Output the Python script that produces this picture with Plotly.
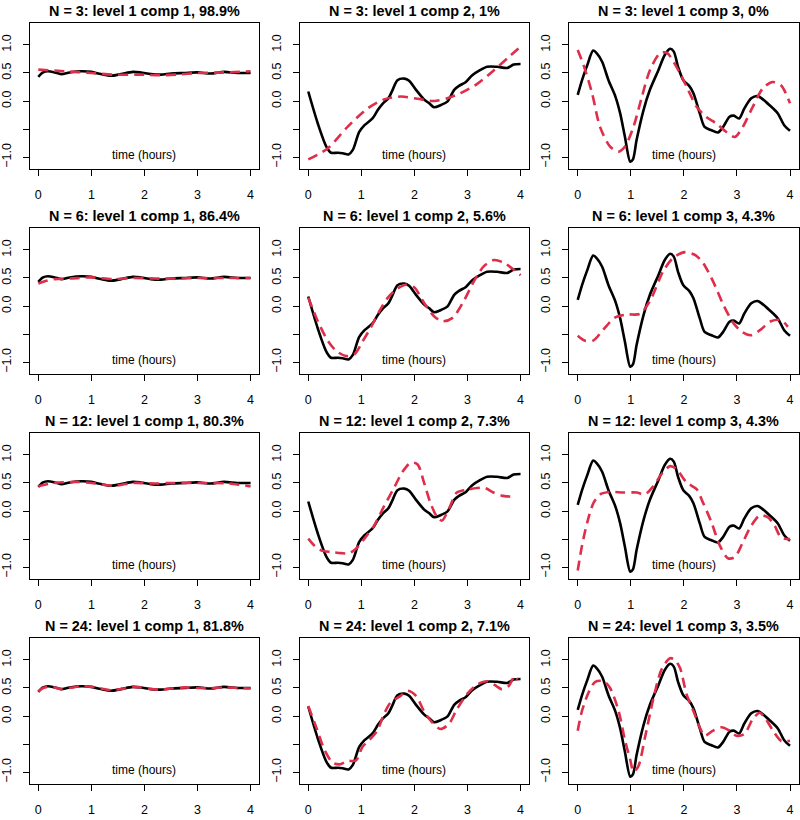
import plotly.graph_objects as go

# ---------------- data ----------------
TITLES = [
    "N = 3: level 1 comp 1, 98.9%", "N = 3: level 1 comp 2, 1%", "N = 3: level 1 comp 3, 0%",
    "N = 6: level 1 comp 1, 86.4%", "N = 6: level 1 comp 2, 5.6%", "N = 6: level 1 comp 3, 4.3%",
    "N = 12: level 1 comp 1, 80.3%", "N = 12: level 1 comp 2, 7.3%", "N = 12: level 1 comp 3, 4.3%",
    "N = 24: level 1 comp 1, 81.8%", "N = 24: level 1 comp 2, 7.1%", "N = 24: level 1 comp 3, 3.5%",
]
X_TICKS = [0, 1, 2, 3, 4]
Y_TICKS = [-1.0, -0.5, 0.0, 0.5, 1.0]
Y_TICKTEXT = ["\u22121.0", "", "0.0", "0.5", "1.0"]
X_LABEL = "time (hours)"

# true components (black, same in every row)
TRUE1_T = [0, 0.09, 0.18, 0.31, 0.43, 0.59, 0.81, 1.0, 1.18, 1.37, 1.56, 1.78, 1.93, 2.12, 2.31, 2.5, 2.75, 3.0, 3.25, 3.5, 3.75, 4.0]
TRUE1_Y = [0.43, 0.51, 0.53, 0.51, 0.48, 0.51, 0.53, 0.52, 0.48, 0.45, 0.48, 0.52, 0.51, 0.48, 0.47, 0.49, 0.50, 0.51, 0.49, 0.52, 0.50, 0.50]

TRUE2_T = [0, 0.18, 0.34, 0.43, 0.56, 0.65, 0.76, 0.84, 0.96, 1.06, 1.21, 1.31, 1.40, 1.51, 1.59, 1.68, 1.81, 1.90, 2.03, 2.18, 2.28, 2.37, 2.50, 2.62, 2.75, 2.84, 2.97, 3.09, 3.22, 3.37, 3.56, 3.75, 3.87, 4.0]
TRUE2_Y = [0.17, -0.40, -0.81, -0.92, -0.92, -0.93, -0.95, -0.87, -0.55, -0.43, -0.31, -0.16, -0.05, 0.05, 0.20, 0.37, 0.40, 0.36, 0.20, 0.03, -0.04, -0.11, -0.07, -0.01, 0.20, 0.27, 0.34, 0.46, 0.54, 0.61, 0.61, 0.59, 0.65, 0.66]

TRUE3_T = [0, 0.08, 0.18, 0.29, 0.36, 0.46, 0.58, 0.71, 0.80, 0.89, 0.99, 1.04, 1.11, 1.24, 1.36, 1.52, 1.64, 1.74, 1.81, 1.89, 1.99, 2.10, 2.18, 2.30, 2.39, 2.52, 2.64, 2.74, 2.86, 2.94, 3.04, 3.14, 3.27, 3.39, 3.49, 3.61, 3.77, 3.89, 4.0]
TRUE3_Y = [0.11, 0.37, 0.64, 0.90, 0.85, 0.70, 0.37, 0.08, -0.22, -0.64, -1.08, -1.04, -0.69, -0.16, 0.20, 0.55, 0.82, 0.93, 0.88, 0.61, 0.37, 0.27, 0.14, -0.22, -0.46, -0.52, -0.56, -0.46, -0.28, -0.26, -0.31, -0.13, 0.05, 0.09, 0.03, -0.07, -0.22, -0.43, -0.53]

# estimated components (red dashed), one per panel
EST_N3_C1_T = [0, 0.5, 1.0, 1.4, 1.9, 2.3, 2.6, 3.0, 3.5, 4.0]
EST_N3_C1_Y = [0.56, 0.53, 0.50, 0.47, 0.47, 0.46, 0.47, 0.50, 0.51, 0.53]
EST_N3_C2_T = [0, 0.37, 0.74, 1.12, 1.43, 1.75, 2.06, 2.37, 2.62, 2.87, 3.19, 3.50, 3.75, 4.0]
EST_N3_C2_Y = [-1.04, -0.84, -0.46, -0.13, 0.03, 0.08, 0.04, 0.0, 0.05, 0.14, 0.31, 0.55, 0.76, 0.97]
EST_N3_C3_T = [0, 0.11, 0.27, 0.42, 0.61, 0.77, 0.89, 1.05, 1.21, 1.36, 1.55, 1.68, 1.86, 2.05, 2.24, 2.42, 2.61, 2.80, 2.96, 3.11, 3.30, 3.49, 3.67, 3.83, 4.0]
EST_N3_C3_Y = [0.91, 0.64, 0.14, -0.46, -0.81, -0.90, -0.81, -0.46, 0.08, 0.55, 0.85, 0.86, 0.61, 0.26, -0.10, -0.28, -0.40, -0.55, -0.64, -0.46, -0.10, 0.23, 0.34, 0.28, -0.04]

EST_N6_C1_T = [0, 0.15, 0.3, 0.6, 1.0, 1.4, 1.8, 2.2, 2.6, 3.0, 3.5, 4.0]
EST_N6_C1_Y = [0.40, 0.45, 0.48, 0.49, 0.51, 0.48, 0.50, 0.49, 0.49, 0.50, 0.50, 0.50]
EST_N6_C2_T = [0, 0.18, 0.37, 0.53, 0.71, 0.87, 1.03, 1.18, 1.34, 1.50, 1.68, 1.84, 2.0, 2.18, 2.37, 2.53, 2.72, 2.93, 3.12, 3.31, 3.50, 3.69, 3.87, 4.0]
EST_N6_C2_Y = [0.15, -0.27, -0.62, -0.80, -0.89, -0.86, -0.62, -0.38, -0.09, 0.15, 0.31, 0.38, 0.33, 0.06, -0.18, -0.27, -0.21, 0.09, 0.44, 0.71, 0.82, 0.77, 0.65, 0.55]
EST_N6_C3_T = [0, 0.14, 0.30, 0.49, 0.71, 0.93, 1.17, 1.36, 1.61, 1.80, 2.02, 2.21, 2.36, 2.55, 2.74, 2.93, 3.11, 3.27, 3.46, 3.64, 3.83, 3.96]
EST_N6_C3_Y = [-0.53, -0.62, -0.61, -0.41, -0.20, -0.15, -0.14, 0.09, 0.62, 0.86, 0.96, 0.91, 0.77, 0.44, 0.03, -0.30, -0.47, -0.52, -0.41, -0.27, -0.25, -0.37]

EST_N12_C1_T = [0, 0.3, 0.7, 1.0, 1.4, 1.8, 2.2, 2.5, 3.0, 3.6, 4.0]
EST_N12_C1_Y = [0.44, 0.50, 0.52, 0.50, 0.45, 0.50, 0.49, 0.50, 0.50, 0.49, 0.44]
EST_N12_C2_T = [0, 0.12, 0.24, 0.43, 0.62, 0.77, 0.90, 1.05, 1.24, 1.43, 1.62, 1.77, 1.93, 2.06, 2.18, 2.30, 2.43, 2.52, 2.65, 2.80, 2.99, 3.18, 3.33, 3.49, 3.67, 3.83, 3.87]
EST_N12_C2_Y = [-0.49, -0.62, -0.70, -0.73, -0.75, -0.75, -0.67, -0.50, -0.26, 0.09, 0.42, 0.69, 0.86, 0.83, 0.51, 0.15, -0.11, -0.17, 0.04, 0.33, 0.38, 0.41, 0.41, 0.33, 0.27, 0.26, 0.27]
EST_N12_C3_T = [0, 0.08, 0.18, 0.30, 0.43, 0.61, 0.86, 1.11, 1.27, 1.43, 1.58, 1.74, 1.86, 2.05, 2.24, 2.36, 2.52, 2.68, 2.83, 2.96, 3.11, 3.27, 3.43, 3.58, 3.71, 3.83, 4.0]
EST_N12_C3_Y = [-1.06, -0.62, -0.20, 0.15, 0.30, 0.34, 0.33, 0.33, 0.30, 0.45, 0.66, 0.80, 0.75, 0.51, 0.39, 0.15, -0.20, -0.62, -0.84, -0.82, -0.56, -0.26, -0.08, -0.11, -0.26, -0.47, -0.50]

EST_N24_C1_T = TRUE1_T
EST_N24_C1_Y = [0.44, 0.50, 0.52, 0.51, 0.48, 0.50, 0.53, 0.52, 0.49, 0.46, 0.48, 0.52, 0.51, 0.48, 0.47, 0.49, 0.51, 0.50, 0.50, 0.51, 0.50, 0.49]
EST_N24_C2_T = [0, 0.15, 0.31, 0.46, 0.59, 0.74, 0.90, 1.02, 1.15, 1.30, 1.43, 1.55, 1.74, 1.87, 2.03, 2.18, 2.33, 2.49, 2.65, 2.80, 2.99, 3.18, 3.37, 3.55, 3.64, 3.77, 3.89, 3.94]
EST_N24_C2_Y = [0.18, -0.20, -0.61, -0.83, -0.86, -0.80, -0.79, -0.55, -0.43, -0.26, 0.04, 0.24, 0.36, 0.45, 0.36, 0.09, -0.11, -0.23, -0.14, 0.12, 0.39, 0.56, 0.62, 0.53, 0.48, 0.53, 0.71, 0.65]
EST_N24_C3_T = [0, 0.08, 0.21, 0.33, 0.49, 0.61, 0.77, 0.89, 0.99, 1.05, 1.14, 1.27, 1.43, 1.58, 1.74, 1.83, 1.93, 2.05, 2.18, 2.30, 2.39, 2.55, 2.71, 2.86, 2.99, 3.14, 3.30, 3.43, 3.52, 3.68, 3.83, 4.0]
EST_N24_C3_Y = [-0.26, 0.09, 0.43, 0.61, 0.62, 0.50, 0.09, -0.43, -0.78, -0.99, -0.90, -0.37, 0.33, 0.83, 1.03, 1.00, 0.85, 0.39, 0.09, -0.20, -0.35, -0.26, -0.20, -0.26, -0.35, -0.32, -0.05, 0.06, -0.02, -0.26, -0.44, -0.44]

TRUE_SERIES = [(TRUE1_T, TRUE1_Y), (TRUE2_T, TRUE2_Y), (TRUE3_T, TRUE3_Y)]
EST_SERIES = [
    (EST_N3_C1_T, EST_N3_C1_Y), (EST_N3_C2_T, EST_N3_C2_Y), (EST_N3_C3_T, EST_N3_C3_Y),
    (EST_N6_C1_T, EST_N6_C1_Y), (EST_N6_C2_T, EST_N6_C2_Y), (EST_N6_C3_T, EST_N6_C3_Y),
    (EST_N12_C1_T, EST_N12_C1_Y), (EST_N12_C2_T, EST_N12_C2_Y), (EST_N12_C3_T, EST_N12_C3_Y),
    (EST_N24_C1_T, EST_N24_C1_Y), (EST_N24_C2_T, EST_N24_C2_Y), (EST_N24_C3_T, EST_N24_C3_Y),
]

# ---------------- layout ----------------
W, H = 800, 820
COL_PX = [(25, 256), (297, 528), (568.5, 799.5)]
ROW_PX = [(23, 169), (228, 374), (433, 579), (638, 784)]
X_RANGE = [-0.16, 4.16]
Y_RANGE = [-1.21, 1.39]
RED = "#DF2E4A"
FONT = "Liberation Sans, Arial, Helvetica, sans-serif"

fig = go.Figure()
annotations = []
layout_axes = {}

for i in range(12):
    r, c = divmod(i, 3)
    n = i + 1
    xa = "x" if n == 1 else f"x{n}"
    ya = "y" if n == 1 else f"y{n}"
    tt, ty = TRUE_SERIES[c]
    et, ey = EST_SERIES[i]
    fig.add_trace(go.Scatter(x=tt, y=ty, mode="lines", xaxis=xa, yaxis=ya,
                             line=dict(color="black", width=2.6, shape="spline", smoothing=0.8),
                             showlegend=False, hoverinfo="skip"))
    fig.add_trace(go.Scatter(x=et, y=ey, mode="lines", xaxis=xa, yaxis=ya,
                             line=dict(color=RED, width=2.6, dash="10px,6px", shape="spline", smoothing=0.8),
                             showlegend=False, hoverinfo="skip"))
    x0, x1 = COL_PX[c]
    top, bot = ROW_PX[r]
    axkey = "" if n == 1 else str(n)
    layout_axes[f"xaxis{axkey}"] = dict(
        domain=[x0 / W, x1 / W], range=X_RANGE, anchor=ya,
        tickvals=X_TICKS, ticktext=[str(v) for v in X_TICKS],
        ticks="outside", ticklen=6, tickwidth=1, tickcolor="black",
        showline=True, linecolor="black", linewidth=1, mirror=True,
        showgrid=False, zeroline=False, ticklabelstandoff=8,
        tickfont=dict(family=FONT, size=12.5, color="black"),
    )
    layout_axes[f"yaxis{axkey}"] = dict(
        domain=[1 - bot / H, 1 - top / H], range=Y_RANGE, anchor=xa,
        tickvals=Y_TICKS, ticktext=Y_TICKTEXT, tickangle=-90,
        ticks="outside", ticklen=6, tickwidth=1, tickcolor="black",
        showline=True, linecolor="black", linewidth=1, mirror=True,
        showgrid=False, zeroline=False, ticklabelstandoff=7,
        tickfont=dict(family=FONT, size=12.5, color="black"),
    )
    annotations.append(dict(text=f"<b>{TITLES[i]}</b>", xref=f"{xa} domain", yref=f"{ya} domain",
                            x=0.5, y=1, yshift=12, xanchor="center", yanchor="middle",
                            showarrow=False, font=dict(family=FONT, size=14.4, color="black")))
    annotations.append(dict(text=X_LABEL, xref=f"{xa} domain", yref=f"{ya} domain",
                            x=0.5, y=0, yshift=14, xanchor="center", yanchor="middle",
                            showarrow=False, font=dict(family=FONT, size=12, color="black")))

fig.update_layout(
    width=W, height=H, margin=dict(l=0, r=0, t=0, b=0),
    paper_bgcolor="white", plot_bgcolor="white",
    annotations=annotations, showlegend=False, **layout_axes,
)

fig.write_html("out.html", config={"displayModeBar": False},
               post_script="document.body.style.margin='0';")
